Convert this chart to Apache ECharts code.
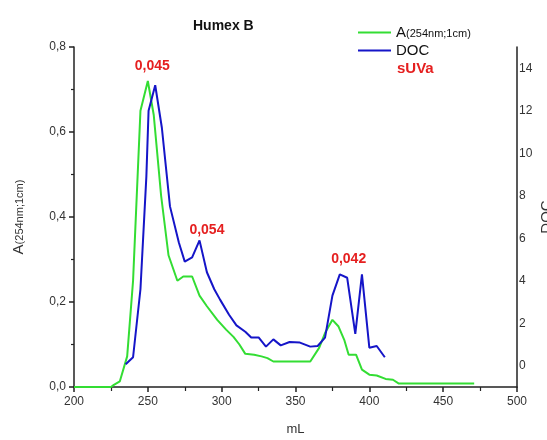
<!DOCTYPE html>
<html>
<head>
<meta charset="utf-8">
<script src="https://cdn.jsdelivr.net/npm/echarts@6/dist/echarts.min.js"></script>
<style>html,body{margin:0;padding:0;background:#fff}#c{width:547px;height:440px}</style>
</head>
<body>
<div id="c"></div>
<script>
// Absorbance A(254nm;1cm) vs elution volume (mL)
const absX = [200,225,227,231,236,240,245,250,254,259,264,270,274,280,285,290,297,303,308,312,316,322,327,331,335,360,366,370,375,379,383,386,391,395,400,405,411,416,420,471];
const absY = [0,0,0.005,0.013,0.072,0.25,0.65,0.72,0.64,0.45,0.31,0.25,0.26,0.26,0.215,0.19,0.158,0.135,0.118,0.10,0.078,0.076,0.072,0.068,0.06,0.06,0.092,0.127,0.158,0.143,0.111,0.076,0.076,0.041,0.029,0.027,0.019,0.017,0.008,0.008];
// DOC vs elution volume (mL)
const docX = [235,240,245,249,250.5,255,259.5,265,271,275,280,285,290,295,299,305,310,316,320,325,330,335,340,346,353,360,365,370,375,380,385,390.5,395,400,405,410.5];
const docY = [0.07,0.4,3.6,8.9,12.0,13.2,11.2,7.5,5.8,4.9,5.1,5.9,4.4,3.6,3.1,2.4,1.9,1.6,1.33,1.33,0.9,1.24,0.96,1.12,1.09,0.9,0.93,1.32,3.3,4.3,4.14,1.5,4.3,0.85,0.93,0.4];
// sUVa annotations: label text and position in data coords (mL, absorbance)
const suvaText = ['0,045','0,054','0,042'];
const suvaX = [253,290,386];
const suvaY = [0.754,0.368,0.302];
// Tick labels
const xTicks = [200,250,300,350,400,450,500];
const leftTicks = ['0,0','0,2','0,4','0,6','0,8'];
const rightTicks = [0,2,4,6,8,10,12,14];

const green = '#33dd33', blue = '#1515c8', red = '#e52020', axisCol = '#222', txtCol = '#333';
const FF = 'Liberation Sans, Arial';
const chart = echarts.init(document.getElementById('c'), null, {renderer:'canvas'});
const zip = (a,b) => a.map((v,i)=>[v,b[i]]);
chart.setOption({
  animation:false,
  backgroundColor:'#fff',
  title:{text:'Humex B', left:188, top:14, textStyle:{fontFamily:FF, fontSize:14, fontWeight:'bold', color:'#111'}},
  legend:{
    orient:'vertical', left:358, top:25, padding:0, itemGap:3, itemWidth:33, itemHeight:2, icon:'rect',
    data:['A','DOC'],
    formatter: n => n==='A' ? '{a|A}{s|(254nm;1cm)}' : '{a|DOC}',
    textStyle:{rich:{a:{fontSize:15, color:'#111', fontFamily:FF}, s:{fontSize:11, color:'#111', fontFamily:FF, padding:[3,0,0,0]}}}
  },
  graphic:[{type:'text', left:397, top:61, style:{text:'sUVa', fill:red, font:'bold 15px Liberation Sans, Arial'}}],
  grid:{left:74, right:30, top:47, bottom:53, outerBoundsMode:'none', containLabel:false},
  xAxis:{
    type:'value', min:200, max:500, interval:50,
    name:'mL', nameLocation:'middle', nameGap:36, nameTextStyle:{fontSize:13, color:txtCol, fontFamily:FF},
    axisLine:{lineStyle:{color:axisCol, width:1.5}},
    axisTick:{length:5, lineStyle:{color:axisCol, width:1.5}},
    minorTick:{show:true, splitNumber:2, length:4, lineStyle:{color:axisCol, width:1.2}},
    splitLine:{show:false},
    axisLabel:{fontSize:12, color:txtCol, margin:9, fontFamily:FF, formatter:v=> xTicks.includes(v)? String(v):''}
  },
  yAxis:[{
    type:'value', min:0, max:0.8, interval:0.2, position:'left',
    name:'{a|A}{s|(254nm;1cm)}', nameLocation:'middle', nameGap:48, nameRotate:90,
    nameTextStyle:{rich:{a:{fontSize:15, color:txtCol, fontFamily:FF}, s:{fontSize:11, color:txtCol, fontFamily:FF, padding:[3,0,0,0]}}},
    axisLine:{show:true, lineStyle:{color:axisCol, width:1.5}},
    axisTick:{show:true, length:5, lineStyle:{color:axisCol, width:1.5}},
    minorTick:{show:true, splitNumber:2, length:3, lineStyle:{color:axisCol, width:1.2}},
    splitLine:{show:false},
    axisLabel:{fontSize:12, color:txtCol, margin:8, fontFamily:FF, formatter:v=> leftTicks[Math.round(v/0.2)]||''}
  },{
    type:'value', min:-1, max:15, interval:1, position:'right',
    name:'DOC', nameLocation:'middle', nameGap:22, nameRotate:90, nameMoveOverlap:false,
    nameTextStyle:{fontSize:15, color:txtCol, fontFamily:FF},
    axisLine:{show:true, lineStyle:{color:axisCol, width:1.5}},
    axisTick:{show:false},
    splitLine:{show:false},
    axisLabel:{fontSize:12, color:txtCol, margin:2, fontFamily:FF, formatter:v=> rightTicks.includes(v)? String(v):''}
  }],
  series:[{
    name:'A', type:'line', yAxisIndex:0, data:zip(absX,absY), showSymbol:false, symbol:'none',
    lineStyle:{color:green, width:2}, itemStyle:{color:green},
    markPoint:{symbol:'circle', symbolSize:0,
      label:{show:true, position:'inside', color:red, fontWeight:'bold', fontSize:14, fontFamily:FF, formatter:p=>p.name},
      data: suvaText.map((t,i)=>({name:t, coord:[suvaX[i], suvaY[i]]}))}
  },{
    name:'DOC', type:'line', yAxisIndex:1, data:zip(docX,docY), showSymbol:false, symbol:'none',
    lineStyle:{color:blue, width:2}, itemStyle:{color:blue}
  }]
});
</script>
</body>
</html>
